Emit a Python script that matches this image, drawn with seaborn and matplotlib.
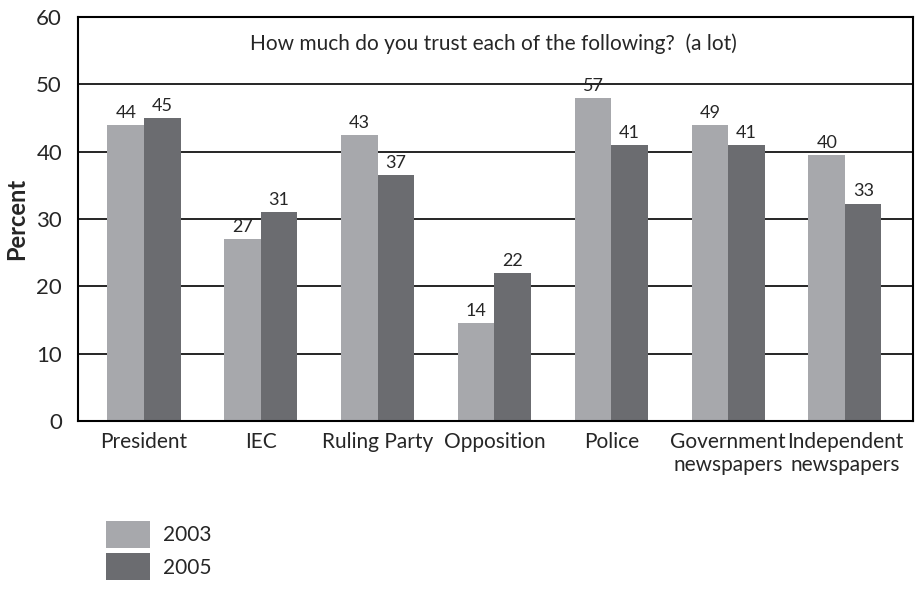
import matplotlib
matplotlib.use("Agg")
import matplotlib.pyplot as plt
import seaborn as sns
import pandas as pd

categories = ["President", "IEC", "Ruling Party", "Opposition", "Police",
              "Government\nnewspapers", "Independent\nnewspapers"]
years = ["2003", "2005"]
heights_2003 = [44, 27, 42.5, 14.5, 48, 44, 39.5]
heights_2005 = [45, 31, 36.5, 22, 41, 41, 32.3]
labels_2003 = ["44", "27", "43", "14", "57", "49", "40"]
labels_2005 = ["45", "31", "37", "22", "41", "41", "33"]
yticks = [0, 10, 20, 30, 40, 50, 60]

df = pd.DataFrame({
    "category": categories * 2,
    "year": [years[0]] * len(categories) + [years[1]] * len(categories),
    "value": heights_2003 + heights_2005,
})

sns.set_style("white")
plt.rcParams["font.family"] = ["Lato", "DejaVu Sans"]

fig = plt.figure(figsize=(9.21, 5.89), dpi=100)
ax = fig.add_axes([78 / 921, 1 - 421 / 589, (912.7 - 78) / 921, (421 - 17) / 589])

c03, c05 = "#a7a8ac", "#6b6c70"
sns.barplot(data=df, x="category", y="value", hue="year", palette=[c03, c05],
            width=0.625, saturation=1, linewidth=0, ax=ax, legend=True)

ax.set_ylim(0, 60)
ax.set_xlim(-0.565, 6.58)
ax.set_yticks(yticks)
ax.set_yticklabels([str(t) for t in yticks], fontsize=16)
ax.tick_params(axis="y", direction="out", length=8, width=1.3, color="black", pad=3.5)
ax.tick_params(axis="x", length=0, labelsize=15, pad=8)
ax.set_xlabel("")
ax.set_ylabel("Percent", fontsize=17, fontweight="bold", labelpad=6)

ax.yaxis.grid(True, color="black", linewidth=1.2)
ax.set_axisbelow(True)
for s in ax.spines.values():
    s.set_visible(True)
    s.set_color("black")
    s.set_linewidth(1.5)

for cont, labs in zip(ax.containers, [labels_2003, labels_2005]):
    ax.bar_label(cont, labels=labs, padding=3, fontsize=13)

ax.text(0.498, 0.935, "How much do you trust each of the following?  (a lot)",
        transform=ax.transAxes, ha="center", va="center", fontsize=15)

sns.move_legend(ax, "upper left", bbox_to_anchor=(106 / 921, 1 - 521 / 589),
                bbox_transform=fig.transFigure, frameon=False, title=None,
                fontsize=15, handlelength=2.1, handleheight=1.63,
                labelspacing=0.24, handletextpad=0.62, borderaxespad=0, borderpad=0)

fig.savefig("out.png", dpi=100)
